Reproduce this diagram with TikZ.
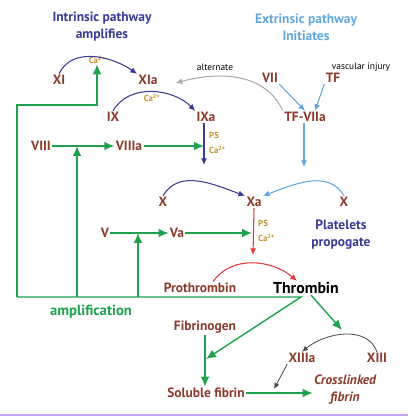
\documentclass[tikz,border=0pt]{standalone}
\usepackage{fontspec}
\setmainfont{PT Sans}
\usepackage{tikz}
\usetikzlibrary{arrows.meta}
\definecolor{braun}{HTML}{8C3B2B}
\definecolor{dblau}{HTML}{3A3C96}
\definecolor{hblau}{HTML}{62A8DE}
\definecolor{gruen}{HTML}{1FA24E}
\definecolor{gold}{HTML}{C8902C}
\definecolor{rot}{HTML}{E2383E}
\definecolor{hgrau}{HTML}{ABABAB}
\definecolor{dgrau}{HTML}{4A4A4A}
\definecolor{lila}{HTML}{C8A6F2}
\tikzset{
  fak/.style={font=\bfseries\fontsize{11.5}{13}\selectfont,text=braun,inner sep=1pt},
  titel/.style={font=\bfseries\fontsize{11.5}{14.5}\selectfont,align=center,inner sep=0pt},
  klein/.style={font=\fontsize{8}{9}\selectfont,inner sep=0pt},
  ion/.style={font=\bfseries\fontsize{7.5}{13}\selectfont,text=gold,inner sep=0pt,align=left},
  pfb/.style={-{Latex[length=2mm,width=1.8mm]},dblau,line width=0.9pt},
  pfh/.style={-{Latex[length=2mm,width=1.8mm]},hblau,line width=0.9pt},
  pfgr/.style={-{Latex[length=2mm,width=1.8mm]},hgrau,line width=0.9pt},
  pfr/.style={-{Latex[length=2mm,width=1.8mm]},rot,line width=0.9pt},
  pfs/.style={-{Latex[length=1.8mm,width=1.6mm]},dgrau,line width=0.7pt},
  pfg/.style={-{Latex[length=3mm,width=2.6mm]},gruen,line width=1.2pt},
}
\begin{document}
\begin{tikzpicture}[x=0.03cm,y=0.03cm]
  \useasboundingbox (0,0) rectangle (408,416);
  \draw[lila,line width=1.5pt] (0,1) -- (408,1);
  % titles
  \node[titel,text=dblau] (intr) at (102,389) {Intrinsic pathway\\amplifies};
  \node[titel,text=hblau] (extr) at (306,389) {Extrinsic pathway\\Initiates};
  % factors
  \node[fak] (XI) at (59,336) {XI};
  \node[fak] (XIa) at (148,336) {XIa};
  \node[fak] (IX) at (113,299) {IX};
  \node[fak] (IXa) at (206,299) {IXa};
  \node[fak] (VII) at (270,338) {VII};
  \node[fak] (TF) at (333,338) {TF};
  \node[fak] (TFVIIa) at (305,299) {TF-VIIa};
  \node[fak] (VIII) at (41,270) {VIII};
  \node[fak] (VIIIa) at (129,270) {VIIIa};
  \node[fak] (Xl) at (163,214) {X};
  \node[fak] (Xa) at (254,214) {Xa};
  \node[fak] (Xr) at (344,214) {X};
  \node[fak] (V) at (105,183) {V};
  \node[fak] (Va) at (177,183) {Va};
  \node[fak] (Proth) at (200,128) {Prothrombin};
  \node[fak,text=black,font=\bfseries\fontsize{13.5}{15}\selectfont] (Thr) at (306,128) {Thrombin};
  \node[fak] (Fib) at (205,89) {Fibrinogen};
  \node[fak] (XIIIa) at (302,58) {XIIIa};
  \node[fak] (XIII) at (377,58) {XIII};
  \node[fak] (Sol) at (206,23) {Soluble fibrin};
  \node[fak,align=center,font=\bfseries\itshape\fontsize{11.5}{14.5}\selectfont] (Cross) at (345,26) {Crosslinked\\fibrin};
  \node[titel,text=dblau] (plat) at (341,181) {Platelets\\propogate};
  \node[titel,text=gruen,font=\bfseries\fontsize{12.5}{14}\selectfont] (amp) at (91,104) {amplification};
  % small labels
  \node[klein] (alt) at (215,349) {alternate};
  \node[klein] (inj) at (361,349) {vascular injury};
  \node[ion] (ca1) at (97,356) {Ca\textsuperscript{2+}};
  \node[ion] (ca2) at (152,318) {Ca\textsuperscript{2+}};
  \node[ion,anchor=west] (ps1) at (209,273) {PS\\Ca\textsuperscript{2+}};
  \node[ion,anchor=west] (ps2) at (258,185) {PS\\Ca\textsuperscript{2+}};
  % free ends
  \coordinate (ecke) at (17,119);
  \coordinate (oben) at (17,311);
  \coordinate (knick) at (301,119);
  \coordinate (fibend) at (206,57);
  \coordinate (ixlin) at (204,270);
  \coordinate (ixend) at (204,251);
  \coordinate (tfend) at (304,249);
  \coordinate (xaend) at (253,161);
  \coordinate (vaend) at (252,183);
  \coordinate (xiiiend) at (342,86);
  \coordinate (sfend) at (274,27);
  % intrinsic
  \draw[pfb] (XI.north) to[out=65,in=145] (XIa.north west);
  \draw[pfb] (IX.north) to[out=60,in=135] (IXa.north west);
  \draw[pfb] (IXa.south -| ixend) -- (ixend);
  \draw[pfb] (Xl.north) to[out=60,in=160] (Xa.north west);
  % extrinsic
  \draw[pfh] (VII.south east) -- (TFVIIa.north);
  \draw[pfh] (TF.south west) -- ([xshift=0.3cm]TFVIIa.north);
  \draw[pfgr] (TFVIIa.north west) to[out=115,in=15] ([xshift=0.5cm,yshift=-0.09cm]XIa.east);
  \draw[pfh] (TFVIIa.south -| tfend) -- (tfend);
  \draw[pfh] (Xr.north) to[out=120,in=20] (Xa.north east);
  % common
  \draw[pfr] (Xa.south) -- (xaend);
  \draw[pfr] ([xshift=0.39cm]Proth.north) to[out=55,in=140] ([xshift=-0.27cm]Thr.north);
  % green amplification
  \draw[pfg] (ecke) -- (oben) -| (ca1.south);
  \draw[pfg] (ecke) -- (knick) -- (fibend);
  \draw[pfg] (VIII.east) -- (VIIIa.west);
  \draw[pfg] (VIIIa.east) -- (ixlin);
  \draw[pfg] (ecke -| 77,0) -- (77,270);
  \draw[pfg] (V.east) -- (Va.west);
  \draw[pfg] (Va.east) -- (vaend);
  \draw[pfg] (ecke -| 138,0) -- (138,183);
  % fibrin
  \draw[pfg] ([xshift=0.15cm]Thr.south) -- (xiiiend);
  \draw[pfs] (XIII.north) to[out=110,in=40] (XIIIa.north);
  \draw[pfs] (XIIIa.south west) -- (sfend);
  \draw[pfg] (Fib.south) -- (Fib.south |- Sol.north);
  \draw[pfg] (Sol.east) -- (Sol.east -| Cross.west);
\end{tikzpicture}
\end{document}
